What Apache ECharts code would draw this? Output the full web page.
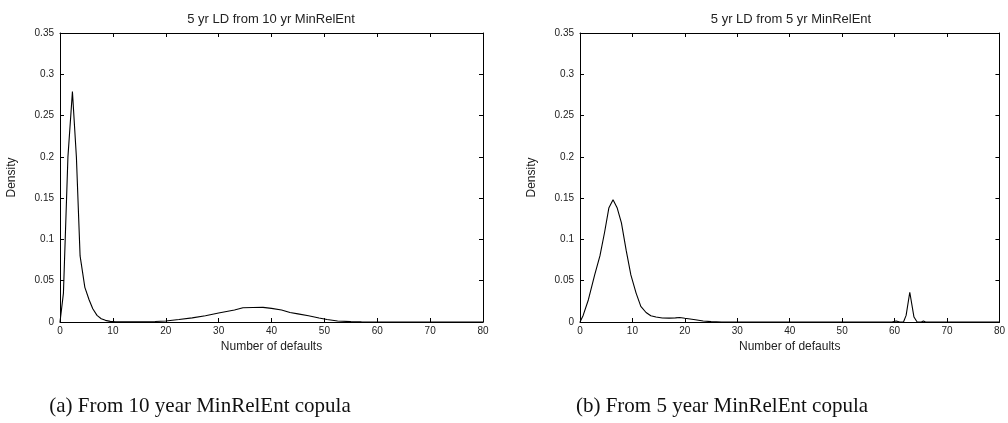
<!DOCTYPE html>
<html>
<head>
<meta charset="utf-8">
<script src="https://cdn.jsdelivr.net/npm/echarts@6/dist/echarts.min.js"></script>
<style>html,body{margin:0;padding:0;background:#fff}#c{width:1008px;height:423px}</style>
</head>
<body>
<div id="c"></div>
<script>
const titles = ['5 yr LD from 10 yr MinRelEnt', '5 yr LD from 5 yr MinRelEnt'];
const captions = ['(a) From 10 year MinRelEnt copula', '(b) From 5 year MinRelEnt copula'];
const xName = 'Number of defaults';
const yName = 'Density';

const xLeft = [0, 0.65, 1.5, 2.35, 3.1, 3.8, 4.7, 5.5, 6.2, 7.0, 7.8, 8.6, 9.5, 10.5, 12, 15, 18, 20, 22.5, 25, 27.5, 30, 31.5, 33, 34.6, 36.5, 38.4, 40, 41.9, 43.5, 45, 47, 49, 50.5, 52.5, 55, 57, 60, 80];
const yLeft = [0, 0.035, 0.2, 0.279, 0.2, 0.08, 0.042, 0.027, 0.016, 0.008, 0.004, 0.002, 0.0008, 0.0003, 0.0001, 0.0002, 0.0006, 0.0012, 0.003, 0.005, 0.0075, 0.0108, 0.0128, 0.0145, 0.0172, 0.0176, 0.0177, 0.0165, 0.0145, 0.0115, 0.0098, 0.0075, 0.0048, 0.003, 0.0012, 0.0004, 0.0001, 0, 0];

const xRight = [0, 0.6, 1.6, 2.8, 3.8, 4.7, 5.5, 6.3, 7.1, 7.9, 8.8, 9.7, 10.7, 11.6, 12.6, 13.5, 14.5, 15.7, 17, 18.2, 19, 20, 22, 23.5, 25, 27, 59.5, 60.3, 61, 61.7, 62.2, 62.9, 63.7, 64.3, 65.1, 65.5, 65.9, 80];
const yRight = [0, 0.008, 0.027, 0.057, 0.08, 0.109, 0.138, 0.148, 0.138, 0.12, 0.087, 0.057, 0.035, 0.019, 0.0115, 0.0075, 0.006, 0.0048, 0.0047, 0.005, 0.0055, 0.0045, 0.0028, 0.0012, 0.0004, 0, 0, 0.0012, 0, 0, 0.008, 0.036, 0.006, 0, 0, 0.0012, 0, 0];

const pairs = (xs, ys) => xs.map((x, i) => [x, ys[i]]);

const chart = echarts.init(document.getElementById('c'), null, {renderer: 'canvas'});
const txt = '#222';
const font = 'Liberation Sans, Arial, sans-serif';
const grids = [
  {left: 60, top: 33, width: 423, height: 289},
  {left: 580, top: 33, width: 423, height: 289}
];
const lineStyle = {color: '#000', width: 1};
function xAxes(g) {
  return [
    {type: 'value', gridIndex: g, min: 0, max: 80, interval: 10, position: 'bottom',
     name: xName, nameLocation: 'middle', nameGap: 18,
     nameTextStyle: {color: txt, fontSize: 12, fontFamily: font},
     axisLine: {onZero: false, lineStyle}, axisTick: {inside: true, length: 4, lineStyle},
     axisLabel: {color: txt, fontSize: 10, fontFamily: font, margin: 4}, splitLine: {show: false}},
    {type: 'value', gridIndex: g, min: 0, max: 80, interval: 10, position: 'top',
     axisLine: {onZero: false, lineStyle}, axisTick: {inside: true, length: 4, lineStyle},
     axisLabel: {show: false}, splitLine: {show: false}}
  ];
}
function yAxes(g) {
  return [
    {type: 'value', gridIndex: g, min: 0, max: 0.35, interval: 0.05, position: 'left',
     name: yName, nameLocation: 'middle', nameGap: 42,
     nameTextStyle: {color: txt, fontSize: 12, fontFamily: font},
     axisLine: {onZero: false, lineStyle}, axisTick: {inside: true, length: 4, lineStyle},
     axisLabel: {color: txt, fontSize: 10, fontFamily: font, margin: 6}, splitLine: {show: false}},
    {type: 'value', gridIndex: g, min: 0, max: 0.35, interval: 0.05, position: 'right',
     axisLine: {onZero: false, lineStyle}, axisTick: {inside: true, length: 4, lineStyle},
     axisLabel: {show: false}, splitLine: {show: false}}
  ];
}
const option = {
  backgroundColor: '#fff',
  animation: false,
  grid: grids,
  xAxis: [...xAxes(0), ...xAxes(1)],
  yAxis: [...yAxes(0), ...yAxes(1)],
  series: [
    {type: 'line', xAxisIndex: 0, yAxisIndex: 0, data: pairs(xLeft, yLeft), showSymbol: false, smooth: false,
     lineStyle: {color: '#000', width: 1.1}},
    {type: 'line', xAxisIndex: 2, yAxisIndex: 2, data: pairs(xRight, yRight), showSymbol: false, smooth: false,
     lineStyle: {color: '#000', width: 1.1}}
  ],
  graphic: [
    {type: 'text', x: 271, y: 19, style: {text: titles[0], textAlign: 'center', textVerticalAlign: 'middle', font: '13px ' + font, fill: txt}},
    {type: 'text', x: 791, y: 19, style: {text: titles[1], textAlign: 'center', textVerticalAlign: 'middle', font: '13px ' + font, fill: txt}},
    {type: 'text', x: 200, y: 406, style: {text: captions[0], textAlign: 'center', textVerticalAlign: 'middle', font: '21px "Liberation Serif", serif', fill: '#111'}},
    {type: 'text', x: 722, y: 406, style: {text: captions[1], textAlign: 'center', textVerticalAlign: 'middle', font: '21px "Liberation Serif", serif', fill: '#111'}}
  ]
};
chart.setOption(option);
</script>
</body>
</html>
